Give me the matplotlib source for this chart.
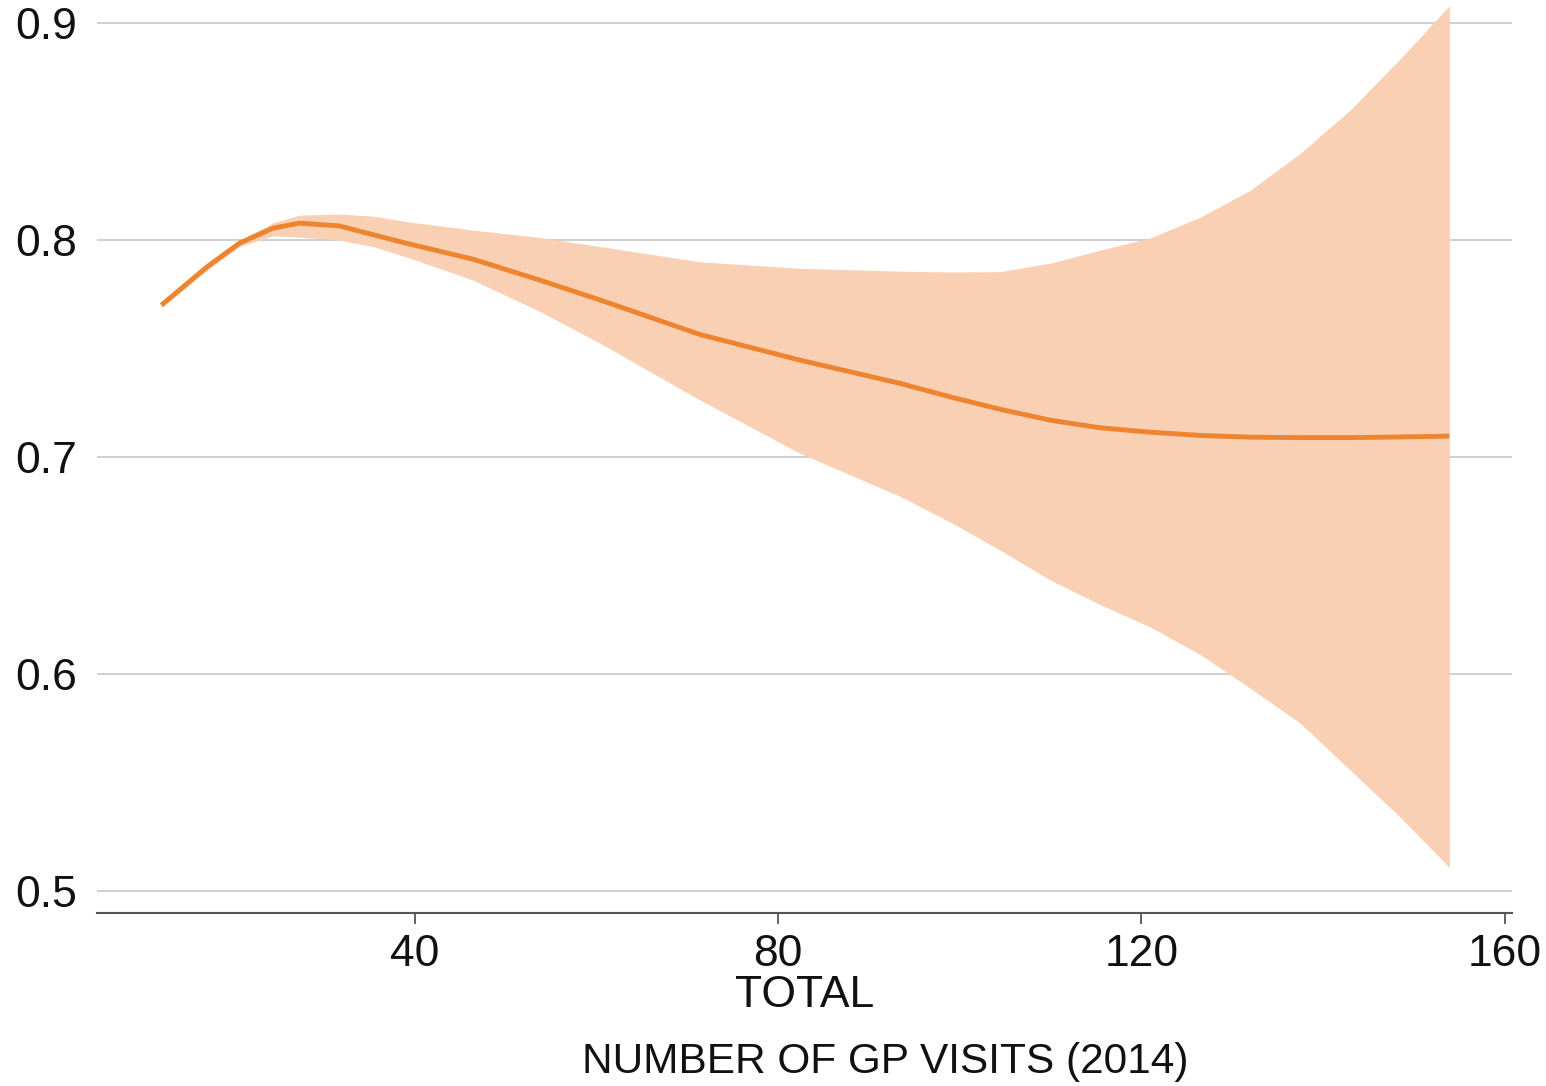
import matplotlib.pyplot as plt

plt.rcParams['font.family'] = ['Liberation Sans', 'DejaVu Sans']

# ------ data ------
visits = [12.1, 17.1, 20.7, 24.4, 27.3, 31.7, 35.4, 39.1, 46.4, 53.8, 60.4, 71.4, 82.4,
          93.4, 99.0, 104.5, 110.0, 115.5, 121.0, 126.5, 132.0, 137.5, 143.0, 148.5, 153.9]
fit = [0.770, 0.7876, 0.7986, 0.8055, 0.8078, 0.8065, 0.8025, 0.7985, 0.7912, 0.7815, 0.7724,
       0.7565, 0.7447, 0.734, 0.7277, 0.722, 0.717, 0.7135, 0.7115, 0.710, 0.7092, 0.709,
       0.709, 0.7093, 0.7097]
upper = [0.771, 0.789, 0.800, 0.808, 0.8115, 0.812, 0.811, 0.8085, 0.8046, 0.8012, 0.797,
         0.790, 0.787, 0.7857, 0.7853, 0.7855, 0.7894, 0.7954, 0.801, 0.8106, 0.823, 0.840,
         0.860, 0.8835, 0.908]
lower = [0.769, 0.786, 0.797, 0.802, 0.8014, 0.800, 0.797, 0.7922, 0.7816, 0.767, 0.7525,
         0.7263, 0.7018, 0.682, 0.670, 0.657, 0.6433, 0.632, 0.6217, 0.609, 0.5935, 0.5774,
         0.5558, 0.5341, 0.511]

x_ticks = [40, 80, 120, 160]
y_ticks = [0.5, 0.6, 0.7, 0.8, 0.9]

fig = plt.figure(figsize=(15.46, 10.86), dpi=100)
ax = fig.add_axes([0.0627, 0.1593, 0.9153, 0.8407])

ax.fill_between(visits, lower, upper, color='#F9D0B4', linewidth=0)
ax.plot(visits, fit, color='#EE8430', linewidth=3.5, solid_capstyle='butt')

ax.set_xlim(5, 160.8)
ax.set_ylim(0.49, 0.9106)

ax.set_xticks(x_ticks)
ax.set_yticks(y_ticks)
ax.set_yticklabels([f"{v:.1f}" for v in y_ticks])
ax.grid(axis='y', color='#CCCCCC', linewidth=1.3)
ax.set_axisbelow(True)

for s in ['top', 'right', 'left']:
    ax.spines[s].set_visible(False)
ax.spines['bottom'].set_color('#555555')
ax.spines['bottom'].set_linewidth(1.5)

ax.tick_params(axis='y', length=0, pad=14, labelsize=32, labelcolor='#111111')
ax.tick_params(axis='x', length=8, width=1.3, color='#555555', pad=7,
               labelsize=32, labelcolor='#111111')

ax.set_xlabel("TOTAL", fontsize=32, color='#111111', labelpad=0)
fig.text(885 / 1546, 1 - 1062 / 1086, "NUMBER OF GP VISITS (2014)",
         fontsize=30.5, ha='center', va='center', color='#111111')

plt.savefig('out.png', dpi=100)
